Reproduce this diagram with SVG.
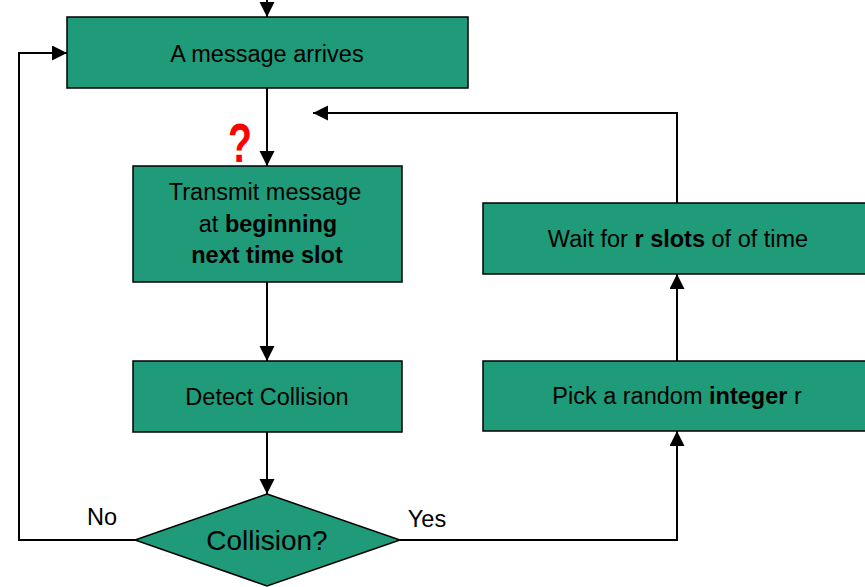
<svg xmlns="http://www.w3.org/2000/svg" width="865" height="587" viewBox="0 0 865 587">
  <style>
    .box { fill: #1f9b7a; stroke: #000; stroke-width: 1.5; }
    .lbl { font-family: "Liberation Sans", Arial, sans-serif; font-size: 23.5px; fill: #000; text-anchor: middle; }
    .big { font-size: 28px; }
    .b { font-weight: bold; }
    .wire { fill: none; stroke: #000; stroke-width: 2; }
    .qmark { font-family: "Liberation Sans", Arial, sans-serif; font-weight: bold; font-size: 56px; fill: #ff0000; }
  </style>
  <defs>
    <marker id="arrow" markerUnits="userSpaceOnUse" markerWidth="16" markerHeight="16" refX="15" refY="7.5" orient="auto">
      <path d="M0,0 L15,7.5 L0,15 z" fill="#000"/>
    </marker>
  </defs>
  <rect width="865" height="587" fill="#fff"/>

  <g id="connectors">
    <path class="wire" d="M267,0 V17" marker-end="url(#arrow)"/>
    <path class="wire" d="M267,88 V166" marker-end="url(#arrow)"/>
    <path class="wire" d="M267,282 V361" marker-end="url(#arrow)"/>
    <path class="wire" d="M267,432 V494" marker-end="url(#arrow)"/>
    <path class="wire" d="M135,540 H19 V53 H67" marker-end="url(#arrow)"/>
    <path class="wire" d="M400,540 H677 V431" marker-end="url(#arrow)"/>
    <path class="wire" d="M677,361 V274" marker-end="url(#arrow)"/>
    <path class="wire" d="M677,203 V113 H313" marker-end="url(#arrow)"/>
  </g>

  <g id="arrives">
    <rect class="box" x="67" y="17" width="401" height="71"/>
    <text class="lbl" x="267" y="62">A message arrives</text>
  </g>

  <g id="transmit">
    <rect class="box" x="133" y="166" width="269" height="116"/>
    <text class="lbl" x="265" y="200">Transmit message</text>
    <text class="lbl" x="268" y="232">at <tspan class="b">beginning</tspan></text>
    <text class="lbl b" x="267" y="263">next time slot</text>
  </g>

  <g id="question">
    <text class="qmark" x="228" y="162" textLength="24" lengthAdjust="spacingAndGlyphs">?</text>
  </g>

  <g id="detect">
    <rect class="box" x="133" y="361" width="269" height="71"/>
    <text class="lbl" x="267" y="405">Detect Collision</text>
  </g>

  <g id="collision">
    <polygon class="box" points="267,494 400,540 267,586 135,540"/>
    <text class="lbl big" x="267" y="550">Collision?</text>
    <text class="lbl" x="102" y="525">No</text>
    <text class="lbl" x="427" y="527">Yes</text>
  </g>

  <g id="pick">
    <rect class="box" x="483" y="361" width="390" height="70"/>
    <text class="lbl" x="677" y="404">Pick a random <tspan class="b">integer</tspan> r</text>
  </g>

  <g id="wait">
    <rect class="box" x="483" y="203" width="390" height="71"/>
    <text class="lbl" x="678" y="247">Wait for <tspan class="b">r slots</tspan> of of time</text>
  </g>
</svg>
